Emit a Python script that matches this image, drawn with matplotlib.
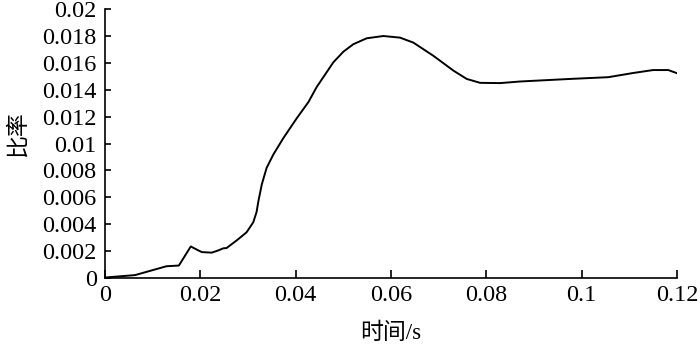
import numpy as np
import matplotlib.pyplot as plt

plt.rcParams['font.family'] = ['Liberation Serif', 'Noto Sans CJK SC']

# curve
t = [0, 0.0063, 0.0129, 0.0155, 0.0180, 0.0189, 0.0203, 0.0224, 0.0238, 0.0248,
     0.0255, 0.0276, 0.0297, 0.0311, 0.0318, 0.0322, 0.0329, 0.0339, 0.0353,
     0.0374, 0.0402, 0.0427, 0.0444, 0.0479, 0.0500, 0.0521, 0.0549, 0.0584,
     0.0619, 0.0647, 0.0689, 0.0731, 0.0759, 0.0787, 0.0829, 0.0871, 0.0976,
     0.1056, 0.1108, 0.1150, 0.1182, 0.1199]
ratio = [0.00004, 0.00022, 0.00088, 0.00093, 0.00235, 0.00218, 0.00193, 0.00189,
         0.00206, 0.00221, 0.00223, 0.00279, 0.0034, 0.00414, 0.0049, 0.00574,
         0.00696, 0.00818, 0.00917, 0.01039, 0.01186, 0.01309, 0.01419, 0.01603,
         0.01682, 0.01738, 0.01782, 0.01799, 0.01787, 0.0175, 0.01652, 0.01542,
         0.0148, 0.01451, 0.01449, 0.01461, 0.0148, 0.01493, 0.01524, 0.01546,
         0.01546, 0.01524]

xticks = [0, 0.02, 0.04, 0.06, 0.08, 0.1, 0.12]
yticks = [0, 0.002, 0.004, 0.006, 0.008, 0.01, 0.012, 0.014, 0.016, 0.018, 0.02]

fig = plt.figure(figsize=(7, 3.45), dpi=100)
ax = fig.add_axes([0.15, 0.194, 0.817, 0.78])
ax.plot(t, ratio, color='black', lw=1.4)

ax.set_xlim(0, 0.12)
ax.set_ylim(0, 0.02)
ax.set_xticks(xticks)
ax.set_xticklabels(['%g' % v for v in xticks])
ax.set_yticks(yticks)
ax.set_yticklabels(['%g' % v for v in yticks])
ax.tick_params(direction='in', width=1.2, labelsize=17.5)
ax.tick_params(axis='x', length=6, pad=5)
ax.tick_params(axis='y', length=4, pad=6)
for s in ['top', 'right']:
    ax.spines[s].set_visible(False)
for s in ['left', 'bottom']:
    ax.spines[s].set_linewidth(1.2)

ax.set_xlabel('时间/s', fontsize=16.5)
ax.set_ylabel('比率', fontsize=16.5)
ax.xaxis.set_label_coords(0.5, -0.167)
ax.yaxis.set_label_coords(-0.133, 0.54)

fig.savefig('out.png', dpi=100)
